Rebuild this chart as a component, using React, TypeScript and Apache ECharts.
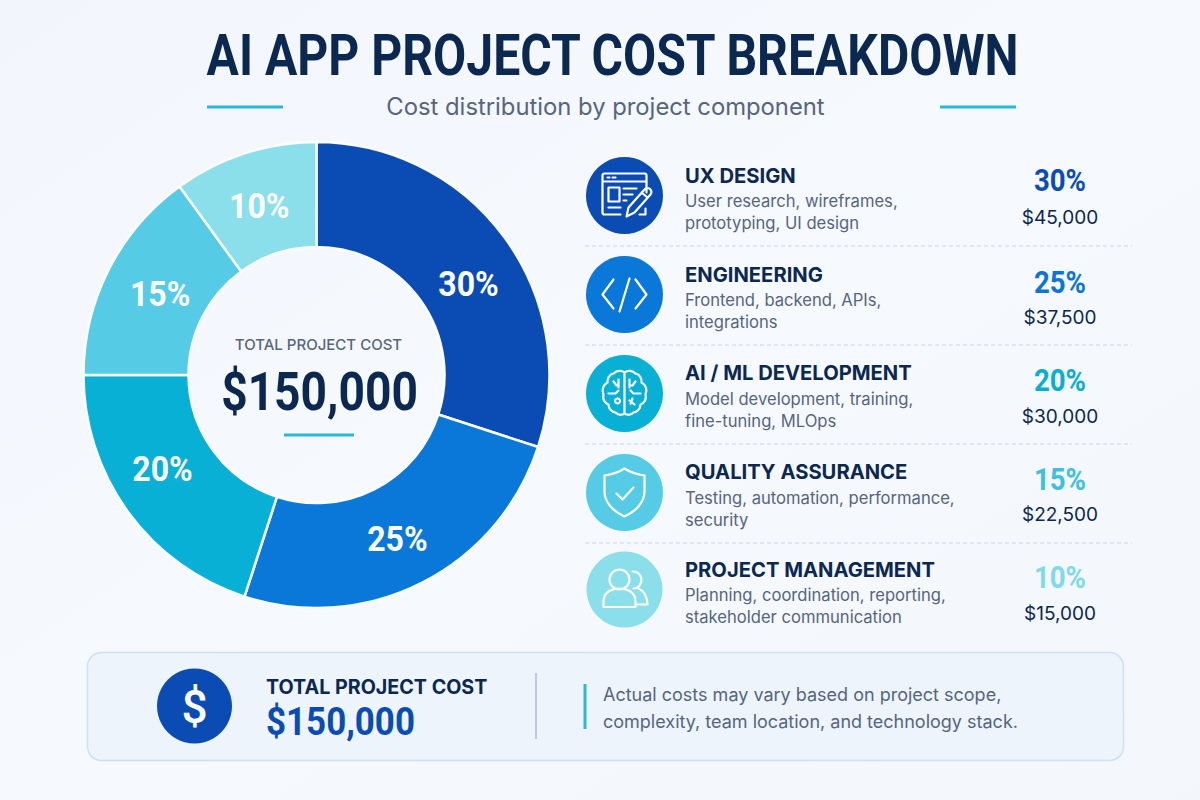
import React, { useEffect, useRef } from "react";
import * as echarts from "echarts";

const categories = ["UX DESIGN", "ENGINEERING", "AI / ML DEVELOPMENT", "QUALITY ASSURANCE", "PROJECT MANAGEMENT"];
const shares = [30, 25, 20, 15, 10];
const costs = ["$45,000", "$37,500", "$30,000", "$22,500", "$15,000"];
const descriptionFirst = ["User research, wireframes,", "Frontend, backend, APIs,", "Model development, training,", "Testing, automation, performance,", "Planning, coordination, reporting,"];
const descriptionSecond = ["prototyping, UI design", "integrations", "fine-tuning, MLOps", "security", "stakeholder communication"];
const colors = ["#0a4cb4", "#0a78d8", "#08b0d6", "#55cbe6", "#8bdfeb"];
const textColors = ["#0b4db5", "#0c74d8", "#0aaed2", "#3fc0e0", "#7fdaea"];
const rowY = [195.5, 294.5, 393.5, 492.5, 589.5];
const nameY = [175, 274, 372, 471, 569];
const shareY = [180, 282, 380, 479, 577];
const costY = [217, 317, 416, 514, 613];
const sepY = [246, 345, 444, 543];
const labelNudge = [[6, 14], [-1, 2], [-8, -13], [4.5, 0], [-1.5, 2]];

const NAVY = "#0b2850";
const GREY = "#55667e";
const CYAN = "#2bb7dc";
const CX = 316.5;
const CY = 375;
const R_IN = 128;
const R_OUT = 233;

const iconPaths = [
  "M-20 -22 H20 A2 2 0 0 1 22 -20 V-3 M-22 -14 H22 M-22 -20 A2 2 0 0 1 -20 -22 M-22 -20 V17 A2 2 0 0 0 -20 19 H-4 M21 13 V19 H15 M-17 -18 H-15 M-12 -18 H-9 M-16 -8 H-5 V6 H-16 Z M-1 -7 H12 M-1 -1 H8 M-1 5 H2 M-16 12 H-4 M2 21 L4 12 L20 -6 A3 3 0 0 1 26 -1 L10 17 Z M17 -3 L23 2",
  "M-11 -15 L-22 0 L-11 14 M11 -15 L22 0 L11 14 M5 -16 L-5 17",
  "M0 -21 A8 8 0 0 0 -11 -20 A8 8 0 0 0 -17 -11 A9 9 0 0 0 -21 1 A8 8 0 0 0 -16 11 A8 8 0 0 0 -9 19 A7 7 0 0 0 0 20 Z M0 -21 A8 8 0 0 1 11 -20 A8 8 0 0 1 17 -11 A9 9 0 0 1 21 1 A8 8 0 0 1 16 11 A8 8 0 0 1 9 19 A7 7 0 0 1 0 20 Z M-11 -12 L-8 -8 L-6 -8 M-16 0 H-9 L-6 -3 M-7 5 A2.5 2.5 0 1 0 -6.9 5 M-6 -14 V-6 M11 -12 L8 -8 L5 -8 M16 0 H9 L6 -3 M8 5 L6 10 M5 7 L10 11 M5 -14 V-6",
  "M0 -24 C6 -20 13 -18 20 -17 V-1 C20 10 11 19 0 24 C-11 19 -20 10 -20 -1 V-17 C-13 -18 -6 -20 0 -24 Z M-8 1 L-2 7 L9 -5",
  "M-15 -10 A10 10 0 1 1 5 -10 A10 10 0 1 1 -15 -10 Z M-21 17.5 V12 C-21 2 -12 -1 -5 -1 C2 -1 11 2 11 12 V17.5 Z M8 -18 A8 8 0 1 1 9 -1 M14 -1 C19 1 23 7 23 15 H13",
];
iconPaths.forEach((d, i) => echarts.graphic.registerShape("icon" + i, echarts.graphic.extendPath(d, {})));

const txt = (x: number, y: number, text: string, font: string, fill: string, align = "left", scaleX = 1) => ({
  type: "text", x, y, scaleX, silent: true, z: 20,
  style: { text, font, fill, textAlign: align, textVerticalAlign: "middle" },
});
const hline = (x1: number, x2: number, y: number, stroke: string, lineWidth = 3, lineDash?: number[]) => ({
  type: "line", silent: true, shape: { x1, y1: y, x2, y2: y }, style: { stroke, lineWidth, lineDash },
});

export default function App() {
  const ref = useRef<HTMLDivElement>(null);
  useEffect(() => {
    document.body.style.margin = "0";
    const chart = echarts.init(ref.current!, null, { renderer: "svg" });
    const rows: any[] = [];
    const total = shares.reduce((a, b) => a + b, 0);
    let run = 0;
    const pieLabels = shares.map((s, i) => {
      const mid = ((run + s / 2) / total) * Math.PI * 2;
      run += s;
      const r = (R_IN + R_OUT) / 2;
      return txt(
        CX + r * Math.sin(mid) + labelNudge[i][0],
        CY - r * Math.cos(mid) + labelNudge[i][1],
        s + "%", "700 36px Roboto", "#fff", "center", 0.89,
      );
    });
    categories.forEach((name, i) => {
      const y = rowY[i];
      rows.push(
        { type: "circle", silent: true, shape: { cx: 624.5, cy: y, r: i === 4 ? 38 : 38.5 }, style: { fill: colors[i] } },
        { type: "icon" + i, x: 624.5, y, silent: true, z: 10, style: { fill: "none", stroke: "#fff", lineWidth: 2.2, lineJoin: "round", lineCap: "round" } },
        txt(685, nameY[i], name, "700 20.2px Inter", NAVY, "left"),
        txt(685, y + 5.5, descriptionFirst[i], "400 16.6px Inter", GREY),
        txt(685, y + 27.5, descriptionSecond[i], "400 16.6px Inter", GREY),
        txt(1060, shareY[i], shares[i] + "%", "700 31px Roboto", textColors[i], "center", 0.89),
        txt(1060, costY[i], costs[i], "400 19px Inter", NAVY, "center"),
      );
    });
    chart.setOption({
      animation: false,
      backgroundColor: {
        type: "linear", x: 0, y: 0, x2: 1, y2: 1,
        colorStops: [{ offset: 0, color: "#f2f6fc" }, { offset: 0.5, color: "#f6f9fe" }, { offset: 1, color: "#f3f7fc" }],
      },
      series: [{
        type: "pie",
        center: [CX, CY],
        radius: [R_IN, R_OUT],
        startAngle: 90,
        clockwise: true,
        silent: true,
        label: { show: false },
        labelLine: { show: false },
        itemStyle: { borderColor: "#fbfdff", borderWidth: 2.5 },
        data: categories.map((name, i) => ({ name, value: shares[i], itemStyle: { color: colors[i] } })),
      }],
      graphic: { elements: [
        txt(612.5, 55.5, "AI APP PROJECT COST BREAKDOWN", "700 58px Roboto", NAVY, "center", 0.83),
        txt(605.5, 106, "Cost distribution by project component", "400 23.8px Inter", GREY, "center"),
        hline(207, 283, 107, CYAN),
        hline(940, 1016, 107, CYAN),
        ...pieLabels,
        txt(318.5, 344, "TOTAL PROJECT COST", "500 15px Inter", GREY, "center"),
        txt(319.5, 391, "$150,000", "700 54px Roboto", NAVY, "center", 0.855),
        hline(284, 354, 435, CYAN),
        ...sepY.map((y) => hline(585, 1132, y, "#ccd6e3", 1, [4, 3])),
        ...rows,
        { type: "rect", silent: true, shape: { x: 87.5, y: 652.5, width: 1036, height: 108, r: 14 }, style: { fill: "#edf4fb", stroke: "#cfe0f3", lineWidth: 1.5 } },
        { type: "circle", silent: true, shape: { cx: 194.5, cy: 706, r: 37.5 }, style: { fill: colors[0] } },
        txt(194.5, 707, "$", "500 46px Roboto", "#fff", "center"),
        txt(266, 687, "TOTAL PROJECT COST", "700 19.7px Inter", NAVY),
        txt(266, 722, "$150,000", "700 38px Roboto", colors[0], "left", 0.92),
        { type: "line", silent: true, shape: { x1: 536, y1: 673, x2: 536, y2: 739 }, style: { stroke: "#aebccb", lineWidth: 1.5 } },
        { type: "line", silent: true, shape: { x1: 585, y1: 684, x2: 585, y2: 729 }, style: { stroke: CYAN, lineWidth: 3 } },
        txt(603, 694, "Actual costs may vary based on project scope,", "400 18px Inter", GREY),
        txt(603, 721, "complexity, team location, and technology stack.", "400 18px Inter", GREY),
      ] },
    });
    return () => chart.dispose();
  }, []);
  return <div ref={ref} style={{ width: 1200, height: 800 }} />;
}
